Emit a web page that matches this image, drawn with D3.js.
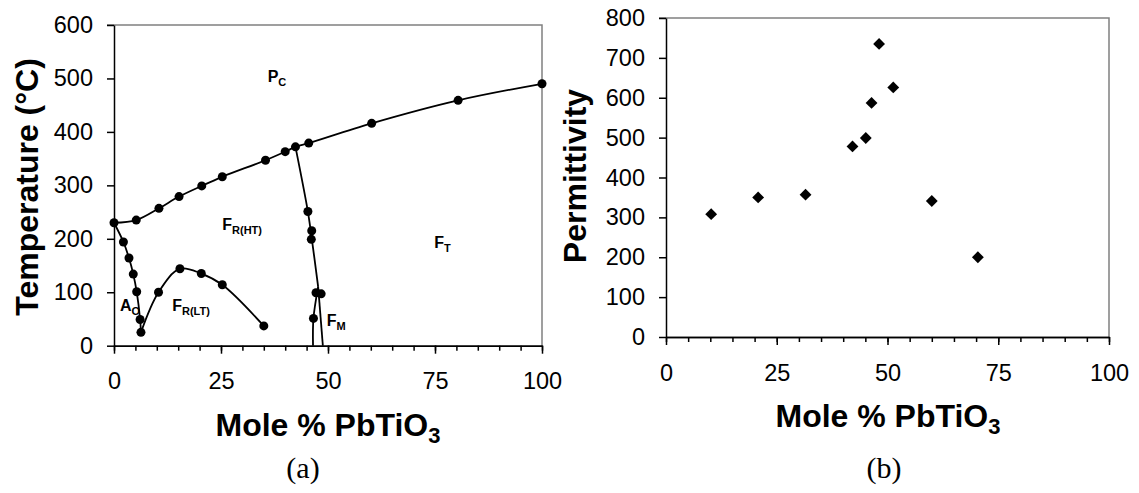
<!DOCTYPE html>
<head lang="en">
<meta charset="utf-8">
<title>PMN-PT phase diagram and permittivity</title>
<style>
body { margin: 0; background: #fff; }
* { font-family: "Liberation Sans", Arial, sans-serif; }
.axis path, .axis line { stroke: #000; stroke-width: 1.5px; }
.axis text { font-size: 23.5px; fill: #000; }
.title { font-size: 32px; font-weight: bold; }
.region { font-size: 16px; font-weight: bold; }
.caption { font-family: "Liberation Serif", "Times New Roman", serif; font-size: 30px; }
</style>
<script src="https://cdn.jsdelivr.net/npm/d3@7"></script>
</head>
<body>
<div id="chart"></div>
<script>
// values
var tempTicks = [0, 100, 200, 300, 400, 500, 600];
var permTicks = [0, 100, 200, 300, 400, 500, 600, 700, 800];
var moleTicks = [0, 25, 50, 75, 100];

// phase boundaries (mole % PbTiO3, temperature C)
var curieLine = [[0,230],[5.2,235],[10.5,257],[15.2,279],[20.5,299],[25.3,316],[35.4,347],
                 [40,363],[42.4,372],[45.5,379],[60.2,416],[80.4,459],[100,490]];
var orthoLine = [[0,230],[2.2,194],[3.5,164],[4.5,134],[5.3,101],[6.1,49],[6.3,25]];
var rhomboLtLine = [[6.3,25],[10.4,100],[15.4,144],[20.4,135],[25.3,114],[35,37]];
var mpbLine = [[42.4,372],[45.3,251],[46.1,207],[47.7,110]];
var monoLeftLine = [[47.7,110],[46.6,51],[46.5,0]];
var monoRightLine = [[47.7,110],[48.8,0]];

// measured points on the diagram
var tempPoints = [[0,230],[5.2,235],[10.5,257],[15.2,279],[20.5,299],[25.3,316],[35.4,347],
                  [40,363],[42.4,372],[45.5,379],[60.2,416],[80.4,459],[100,490],
                  [2.2,194],[3.5,164],[4.5,134],[5.3,101],[6.1,49],[6.3,25],
                  [10.4,100],[15.4,144],[20.4,135],[25.3,114],[35,37],
                  [45.3,251],[46.2,215],[46.1,199],[47.2,99],[48.4,97],[46.6,51]];

var regionLabels = [
    {main: "P", sub: "C", x: 35.9, y: 493},
    {main: "F", sub: "R(HT)", x: 25.3, y: 217},
    {main: "F", sub: "T", x: 74.8, y: 183},
    {main: "A", sub: "O", x: 1.4, y: 64},
    {main: "F", sub: "R(LT)", x: 13.6, y: 65},
    {main: "F", sub: "M", x: 49.7, y: 36}
];

// permittivity vs composition
var permMole = [10.2, 20.8, 31.5, 42.1, 45.1, 46.4, 48.1, 51.3, 60.0, 70.4];
var permValues = [308, 350, 357, 478, 499, 587, 735, 626, 341, 200];

var svg = d3.select("#chart").append("svg")
    .attr("width", 1139)
    .attr("height", 493);

function drawFrame(x, y, yTicks) {
    var x0 = x.range()[0], x1 = x.range()[1];
    var y0 = y.range()[0], y1 = y.range()[1];
    // plot area border (top and right)
    svg.append("path")
        .attr("d", "M" + (x0 - 7) + "," + y1 + "H" + x1 + "V" + y0)
        .attr("fill", "none")
        .attr("stroke", "#808080")
        .attr("stroke-width", 1.5);

    svg.append("g")
        .attr("class", "axis")
        .attr("transform", "translate(" + x0 + ",0)")
        .call(d3.axisLeft(y).tickValues(yTicks).tickSize(7).tickPadding(14).tickSizeOuter(0));

    // minor ticks every 5
    svg.append("g")
        .attr("class", "axis")
        .attr("transform", "translate(0," + y0 + ")")
        .call(d3.axisBottom(x).tickValues(d3.range(0, 101, 5)).tickSize(5).tickFormat("").tickSizeOuter(0));
    svg.append("g")
        .attr("class", "axis")
        .attr("transform", "translate(0," + y0 + ")")
        .call(d3.axisBottom(x).tickValues(moleTicks).tickSize(8).tickPadding(19).tickSizeOuter(0));
}

function xTitle(cx, baseline) {
    var t = svg.append("text")
        .attr("class", "title")
        .attr("x", cx)
        .attr("y", baseline)
        .attr("text-anchor", "middle");
    t.append("tspan").text("Mole % PbTiO");
    t.append("tspan").text("3").attr("font-size", "22px").attr("dy", 7);
}

// ---------- (a) phase diagram ----------
var xA = d3.scaleLinear().domain([0, 100]).range([114, 542]);
var yA = d3.scaleLinear().domain([0, 600]).range([345.7, 25]);
drawFrame(xA, yA, tempTicks);

var lineA = d3.line()
    .x(function(d) { return xA(d[0]); })
    .y(function(d) { return yA(d[1]); })
    .curve(d3.curveCatmullRom.alpha(0.5));

[curieLine, orthoLine, rhomboLtLine, mpbLine, monoLeftLine, monoRightLine].forEach(function(l) {
    svg.append("path")
        .attr("d", lineA(l))
        .attr("fill", "none")
        .attr("stroke", "#000")
        .attr("stroke-width", 1.8);
});

svg.selectAll("circle.pt")
    .data(tempPoints)
    .enter()
    .append("circle")
        .attr("class", "pt")
        .attr("cx", function(d) { return xA(d[0]); })
        .attr("cy", function(d) { return yA(d[1]); })
        .attr("r", 4.5)
        .attr("fill", "#000");

var lab = svg.selectAll("text.region")
    .data(regionLabels)
    .enter()
    .append("text")
        .attr("class", "region")
        .attr("x", function(d) { return xA(d.x); })
        .attr("y", function(d) { return yA(d.y); });
lab.append("tspan").text(function(d) { return d.main; });
lab.append("tspan").text(function(d) { return d.sub; }).attr("font-size", "11px").attr("dy", 4);

svg.append("text")
    .attr("class", "title")
    .attr("transform", "translate(38," + 187 + ") rotate(-90)")
    .attr("text-anchor", "middle")
    .text("Temperature (\u00B0C)");
xTitle(328, 436);
svg.append("text").attr("class", "caption").attr("x", 303).attr("y", 478)
    .attr("text-anchor", "middle").text("(a)");

// ---------- (b) permittivity ----------
var xB = d3.scaleLinear().domain([0, 100]).range([666, 1109]);
var yB = d3.scaleLinear().domain([0, 800]).range([337, 18]);
drawFrame(xB, yB, permTicks);

var diamond = d3.symbol().type(d3.symbolSquare).size(70);
svg.selectAll("path.perm")
    .data(permMole)
    .enter()
    .append("path")
        .attr("class", "perm")
        .attr("d", diamond)
        .attr("transform", function(d, i) {
            return "translate(" + xB(d) + "," + yB(permValues[i]) + ") rotate(45)";
        })
        .attr("fill", "#000");

svg.append("text")
    .attr("class", "title")
    .attr("transform", "translate(586," + 176 + ") rotate(-90)")
    .attr("text-anchor", "middle")
    .text("Permittivity");
xTitle(888, 427);
svg.append("text").attr("class", "caption").attr("x", 884).attr("y", 478)
    .attr("text-anchor", "middle").text("(b)");
</script>
</body>
</html>
